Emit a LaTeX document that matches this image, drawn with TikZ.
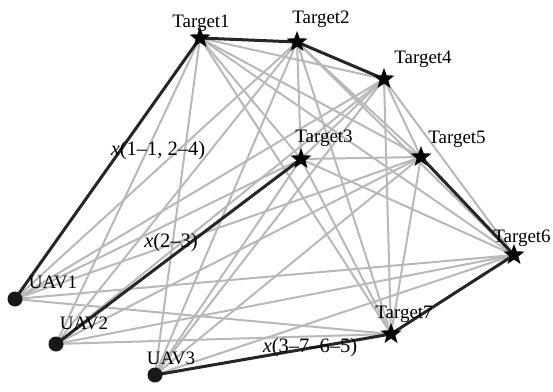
\documentclass[tikz,border=0pt]{standalone}
\usepackage{fontspec}
\setmainfont{Liberation Serif}
\usetikzlibrary{shapes.geometric,backgrounds}
\begin{document}
\begin{tikzpicture}[x=1pt,y=-1pt,
  edge/.style={draw=black!28, line width=2pt},
  route/.style={draw=black!85, line width=3pt},
  tgt/.style={star, star points=5, star point ratio=2.4, fill=black, inner sep=0pt, minimum size=22pt},
  uav/.style={circle, fill=black!90, inner sep=0pt, minimum size=15pt},
  lbl/.style={font=\fontsize{19}{21}\selectfont, inner sep=0pt, anchor=base},
  rlbl/.style={font=\fontsize{20.5}{22}\selectfont, inner sep=0pt, anchor=base}]
\useasboundingbox (0,0) rectangle (553,391);
\node[uav] (u1) at (15,299) {};
\node[uav] (u2) at (56,344) {};
\node[uav] (u3) at (155,375) {};
\node[tgt] (t1) at (200,38) {};
\node[tgt] (t2) at (297,42) {};
\node[tgt] (t3) at (301,159) {};
\node[tgt] (t4) at (384,79) {};
\node[tgt] (t5) at (421,157) {};
\node[tgt] (t6) at (514,255) {};
\node[tgt] (t7) at (391,334) {};
\begin{scope}[on background layer]
  \foreach \u in {u1,u2,u3} {
    \foreach \j in {1,...,7} { \draw[edge] (\u.center) -- (t\j.center); }
  }
  \foreach \i in {1,...,6} {
    \pgfmathtruncatemacro\k{\i+1}
    \foreach \j in {\k,...,7} { \draw[edge] (t\i.center) -- (t\j.center); }
  }
  \draw[route] (u1.center) -- (t1.center) -- (t2.center) -- (t4.center);
  \draw[route] (u2.center) -- (t3.center);
  \draw[route] (u3.center) -- (t7.center) -- (t6.center) -- (t5.center);
\end{scope}
\node[lbl] (l1) at (201,27) {Target1};
\node[lbl] (l2) at (321,23) {Target2};
\node[lbl] (l4) at (423,63) {Target4};
\node[lbl] (l3) at (324,142) {Target3};
\node[lbl] (l5) at (457,143) {Target5};
\node[lbl] (l6) at (522,242) {Target6};
\node[lbl] (l7) at (404,318) {Target7};
\node[lbl] (lu1) at (53,288) {UAV1};
\node[lbl] (lu2) at (84,329) {UAV2};
\node[lbl] (lu3) at (171,364) {UAV3};
\node[rlbl] (r1) at (158,155) {\textit{x}(1--1, 2--4)};
\node[rlbl] (r2) at (171,247) {\textit{x}(2--3)};
\node[rlbl] (r3) at (310,352) {\textit{x}(3--7--6--5)};
\end{tikzpicture}
\end{document}
